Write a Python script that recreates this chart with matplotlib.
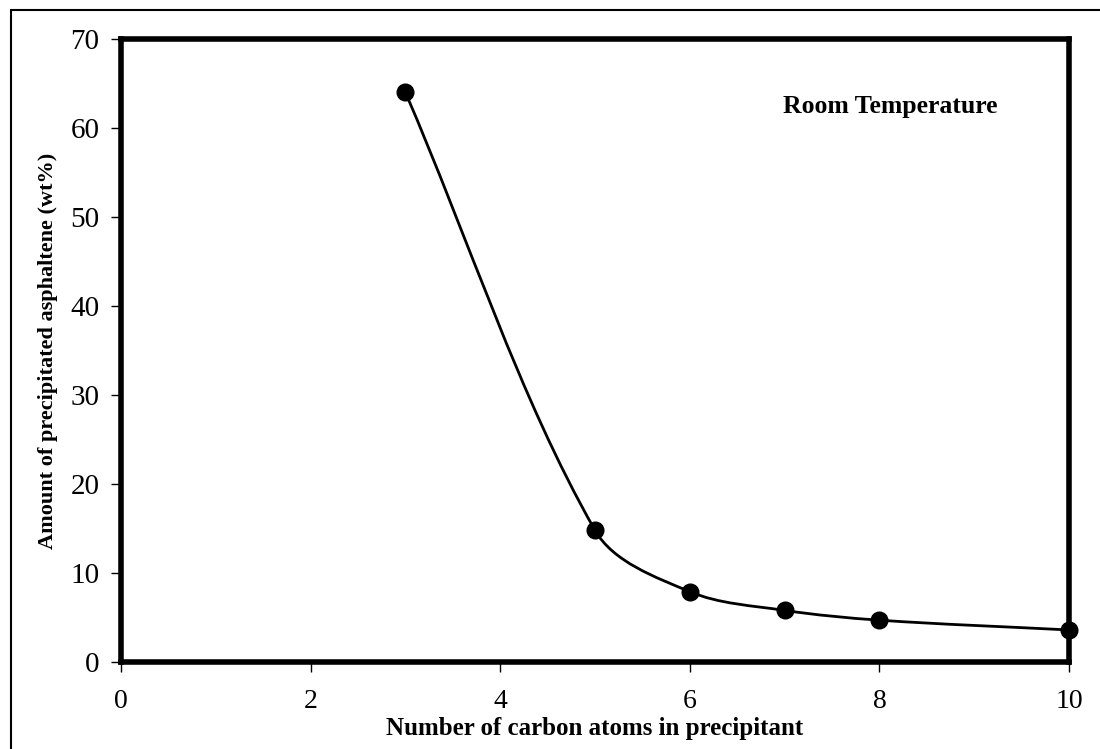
import numpy as np
import matplotlib
matplotlib.use("Agg")
import matplotlib.pyplot as plt
from matplotlib.path import Path
from matplotlib.patches import PathPatch, Rectangle

# data
carbon_atoms = [3, 5, 6, 7, 8, 10]
asphaltene_wt = [64.0, 14.8, 7.9, 5.8, 4.7, 3.6]
x_ticks = [0, 2, 4, 6, 8, 10]
y_ticks = [0, 10, 20, 30, 40, 50, 60, 70]

SERIF = ["Liberation Serif", "DejaVu Serif"]


def smooth_path(ax, xs, ys) -> Path:
    # spreadsheet-style smoothed line: cubic Bezier segments whose control
    # points follow the neighbour chord, weighted by segment lengths on screen
    pts = ax.transData.transform(np.column_stack([xs, ys]))
    ext = np.vstack([pts[0], pts, pts[-1]])
    d = np.linalg.norm(np.diff(ext, axis=0), axis=1)
    verts = [pts[0]]
    codes = [Path.MOVETO]
    for i in range(1, len(ext) - 2):
        p0, p1, p2, p3 = ext[i - 1], ext[i], ext[i + 1], ext[i + 2]
        d01, d12, d23 = d[i - 1], d[i], d[i + 1]
        c1 = p1 + (p2 - p0) * d12 / (d01 + d12) / 3
        c2 = p2 - (p3 - p1) * d12 / (d12 + d23) / 3
        verts += [c1, c2, p2]
        codes += [Path.CURVE4] * 3
    data_verts = ax.transData.inverted().transform(np.array(verts))
    return Path(data_verts, codes)


fig = plt.figure(figsize=(11, 7.49), dpi=100)
fig.patch.set_facecolor("white")

# outer frame of the scanned figure
fig.patches.append(
    Rectangle((11 / 1100, -0.1), 1.2, 1.1 - 10 / 749, transform=fig.transFigure,
              fill=False, edgecolor="black", linewidth=1.5, zorder=0)
)

ax = fig.add_axes([121 / 1100, 1 - 662 / 749, (1069 - 121) / 1100, (662 - 39) / 749])
ax.set_xlim(0, 10)
ax.set_ylim(0, 70)

ax.add_patch(PathPatch(smooth_path(ax, carbon_atoms, asphaltene_wt), fill=False,
                       edgecolor="black", linewidth=2.0, zorder=2))
ax.plot(carbon_atoms, asphaltene_wt, linestyle="none", marker="o", markersize=12,
        color="black", zorder=3, clip_on=False)

ax.set_xticks(x_ticks)
ax.set_yticks(y_ticks)

for side in ["left", "right", "top", "bottom"]:
    ax.spines[side].set_linewidth(4.0)

ax.tick_params(direction="out", length=7.5, width=1)
ax.tick_params(axis="x", pad=12)
ax.tick_params(axis="y", pad=8)
for lbl in ax.get_yticklabels():
    lbl.set_fontfamily(SERIF)
    lbl.set_fontsize(21)
for lbl in ax.get_xticklabels():
    lbl.set_fontfamily(SERIF)
    lbl.set_fontsize(20)

ax.set_xlabel("Number of carbon atoms in precipitant", fontfamily=SERIF,
              fontweight="bold", fontsize=18, labelpad=2)
ax.set_ylabel("Amount of precipitated asphaltene (wt%)", fontfamily=SERIF,
              fontweight="bold", fontsize=16, labelpad=9)

ax.text(0.811, 0.891, "Room Temperature", transform=ax.transAxes, ha="center",
        va="center", fontfamily=SERIF, fontweight="bold", fontsize=18.5)

fig.savefig("out.png", dpi=100)
